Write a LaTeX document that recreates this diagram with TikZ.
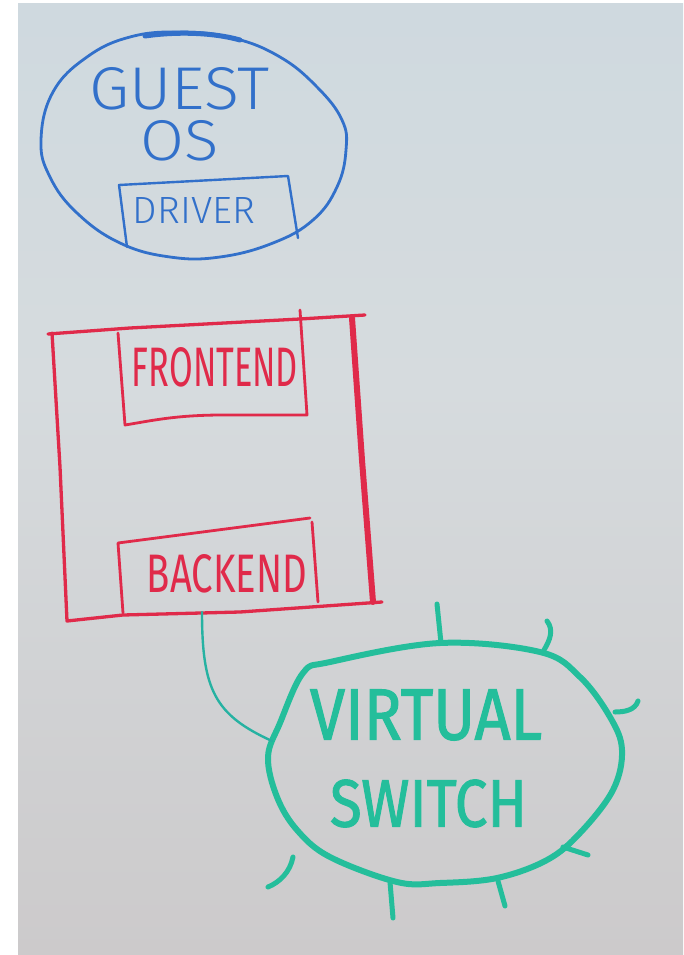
\documentclass[tikz,border=0pt]{standalone}
\usepackage{fontspec}
\usepackage{graphicx}
\newfontfamily\hand{Fira Sans}
\newfontfamily\handbold{Fira Sans}[FakeBold=1.6]
\newfontfamily\handlight{Fira Sans Light}
\definecolor{boardtop}{RGB}{198,215,224}
\definecolor{boardmid}{RGB}{214,219,222}
\definecolor{boardlow}{RGB}{204,202,203}
\definecolor{boardbot}{RGB}{186,184,184}
\definecolor{mblue}{RGB}{50,112,202}
\definecolor{mred}{RGB}{224,42,74}
\definecolor{mgreen}{RGB}{36,190,155}
\pgfdeclareverticalshading{board}{100bp}{color(0bp)=(boardbot); color(25bp)=(boardlow);
  color(55bp)=(boardmid); color(100bp)=(boardtop)}
\tikzset{
  bluepen/.style={draw=mblue, line width=2.8pt, line cap=round, line join=round},
  redpen/.style={draw=mred, line width=3.3pt, line cap=round, line join=round},
  greenpen/.style={draw=mgreen, line width=6pt, line cap=round, line join=round},
  spike/.style={draw=mgreen, line width=5pt, line cap=round},
  label/.style={inner sep=0pt, outer sep=0pt}
}
\begin{document}
\begin{tikzpicture}[x=1pt, y=-1pt]
\useasboundingbox (0,0) rectangle (683,955);
% paper and whiteboard
\fill[white] (0,0) rectangle (683,955);
\shade[shading=board] (18,4) rectangle (683,955);

% ---- Guest OS ----
\draw[bluepen] plot[smooth cycle, tension=0.7] coordinates {
  (41,140) (53,92) (87,57) (130,37) (180,32) (233,38) (280,57) (317,87)
  (342,120) (346,150) (337,187) (313,220) (273,243) (220,257) (170,257)
  (120,243) (77,213) (50,177)};
\draw[mblue, line width=5pt, line cap=round] (145,36) .. controls (180,31) and (215,33) .. (240,40);
\node[label, text=mblue, align=center, font=\fontsize{1pt}{1pt}\selectfont] (guestos) at (179.5,114)
  {\resizebox{180pt}{42pt}{\handlight GUEST}\\[9pt]\resizebox{78pt}{40pt}{\handlight OS}};
% driver box
\draw[bluepen, line width=2.4pt] (127,247) -- (119,185) -- (288,176) -- (298,238);
\node[label, text=mblue] (driver) at (194,210) {\resizebox{122pt}{26pt}{\handlight DRIVER}};

% ---- Red host box ----
\draw[redpen] (365,315) -- (300,319) -- (130,328) -- (48,334) (52,333) -- (60,467) -- (67,621)
  -- (123,615) -- (240,612) -- (382,602);
\draw[mred, line width=6pt, line cap=round] (352,318) -- (362,460) -- (373,602);
% frontend
\draw[redpen, line width=2.8pt] (118,333) -- (125,425)
  .. controls (150,421) and (175,415) .. (223,415) -- (307,415) -- (300,310);
\node[label, text=mred] (frontend) at (215,367.5) {\resizebox{166pt}{39pt}{\hand FRONTEND}};
% backend
\draw[redpen, line width=2.8pt] (123,613) -- (118,543) -- (310,518);
\draw[redpen, line width=2.8pt] (312,522) -- (318,602);
\node[label, text=mred] (backend) at (227,574) {\resizebox{160pt}{38pt}{\hand BACKEND}};

% ---- Virtual switch ----
\draw[greenpen] plot[smooth cycle, tension=0.6] coordinates {
  (268,757) (280,723) (303,673) (330,662) (440,643) (540,652) (580,677)
  (610,717) (622,750) (613,790) (580,833) (547,860) (497,878) (440,883)
  (397,882) (330,857) (297,830) (277,797)};
\node[label, text=mgreen] (virtual) at (426,715) {\resizebox{232pt}{50pt}{\handbold VIRTUAL}};
\node[label, text=mgreen] (switch) at (428.5,803.5) {\resizebox{197pt}{47pt}{\handbold SWITCH}};
% ports around the switch
\draw[spike] (437,604) -- (441,643);
\draw[spike] (547,621) .. controls (554,630) and (550,640) .. (544,650);
\draw[spike] (615,712) .. controls (625,712) and (635,710) .. (638,701);
\draw[spike] (563,847) -- (588,855);
\draw[spike] (390,882) -- (393,918);
\draw[spike] (498,881) -- (505,906);
\draw[spike] (293,857) .. controls (290,872) and (280,882) .. (268,887);

% ---- link from backend to switch ----
\coordinate (bkport) at (202,612);
\coordinate (swport) at (272,741);
\draw[draw=mgreen!85!mblue, line width=2.4pt, line cap=round] (bkport) .. controls (202,690) and (215,715) .. (swport);
\end{tikzpicture}
\end{document}
